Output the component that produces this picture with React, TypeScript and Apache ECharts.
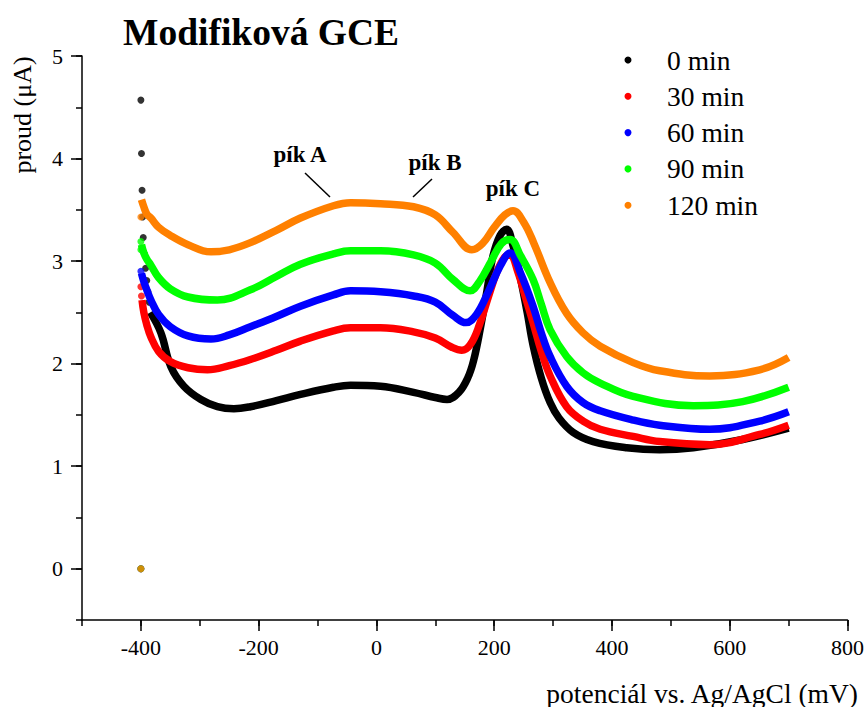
import React, { useEffect, useRef } from 'react';
import * as echarts from 'echarts';

const seriesNames = ['0 min', '30 min', '60 min', '90 min', '120 min'];
const seriesColors = ['#000000', '#ff0000', '#0000ff', '#00ff00', '#ff8000'];

// potential (mV), current (µA)
const curve0 = [
  [-384, 2.5], [-366, 2.3], [-349, 1.97], [-327, 1.78], [-298, 1.65], [-270, 1.58], [-242, 1.56],
  [-214, 1.58], [-170, 1.64], [-129, 1.7], [-73, 1.77], [-44, 1.79], [7, 1.78], [63, 1.72],
  [100, 1.67], [120, 1.65], [140, 1.72], [155, 1.86], [165, 2.03], [176, 2.33], [188, 2.72],
  [198, 3.05], [210, 3.25], [221, 3.31], [232, 3.15], [244, 2.85], [256, 2.5], [266, 2.18],
  [280, 1.86], [295, 1.62], [310, 1.47], [334, 1.33], [368, 1.24], [425, 1.18], [481, 1.16],
  [538, 1.18], [622, 1.26], [700, 1.37]
];
const curve30 = [
  [-398, 2.62], [-395, 2.5], [-390, 2.38], [-383, 2.26], [-370, 2.12], [-350, 2.02], [-320, 1.96],
  [-287, 1.94], [-250, 1.98], [-214, 2.04], [-170, 2.13], [-129, 2.22], [-73, 2.32], [-44, 2.35],
  [7, 2.35], [63, 2.31], [100, 2.25], [128, 2.16], [145, 2.13], [160, 2.19], [175, 2.38],
  [190, 2.65], [205, 2.9], [218, 3.04], [227, 3.06], [240, 2.9], [253, 2.65], [266, 2.4],
  [280, 2.12], [295, 1.88], [323, 1.58], [351, 1.44], [380, 1.36], [436, 1.29], [481, 1.24],
  [566, 1.21], [651, 1.31], [700, 1.4]
];
const curve60 = [
  [-399, 2.88], [-395, 2.8], [-390, 2.72], [-383, 2.62], [-370, 2.48], [-350, 2.36], [-320, 2.27],
  [-281, 2.24], [-250, 2.28], [-214, 2.36], [-170, 2.46], [-129, 2.56], [-73, 2.67], [-44, 2.71],
  [7, 2.7], [63, 2.66], [100, 2.6], [130, 2.47], [152, 2.4], [170, 2.48], [190, 2.7],
  [210, 2.95], [227, 3.08], [245, 2.88], [266, 2.56], [280, 2.3], [295, 2.07], [323, 1.78],
  [351, 1.62], [380, 1.54], [436, 1.45], [481, 1.4], [566, 1.36], [651, 1.44], [700, 1.53]
];
const curve90 = [
  [-399, 3.16], [-395, 3.08], [-390, 3.02], [-383, 2.96], [-370, 2.84], [-350, 2.73], [-320, 2.65],
  [-270, 2.62], [-214, 2.72], [-170, 2.85], [-129, 2.97], [-73, 3.07], [-44, 3.1], [7, 3.1],
  [63, 3.06], [100, 2.98], [130, 2.82], [159, 2.71], [175, 2.8], [195, 3.0], [212, 3.17],
  [227, 3.21], [245, 3.05], [266, 2.82], [280, 2.58], [295, 2.33], [323, 2.07], [351, 1.91],
  [380, 1.81], [436, 1.68], [538, 1.59], [622, 1.63], [700, 1.77]
];
const curve120 = [
  [-399, 3.6], [-395, 3.53], [-390, 3.46], [-383, 3.42], [-370, 3.33], [-350, 3.25], [-320, 3.16],
  [-281, 3.09], [-250, 3.11], [-214, 3.18], [-170, 3.3], [-129, 3.42], [-73, 3.54], [-44, 3.57],
  [7, 3.56], [63, 3.53], [100, 3.45], [130, 3.28], [162, 3.11], [180, 3.17], [200, 3.33],
  [218, 3.45], [232, 3.49], [250, 3.38], [267, 3.18], [295, 2.79], [323, 2.49], [351, 2.3],
  [380, 2.17], [436, 2.01], [481, 1.93], [566, 1.88], [651, 1.94], [700, 2.06]
];

// isolated points at the start of each scan
const dots0 = [
  [-400, 4.57], [-399, 4.05], [-398, 3.69], [-397, 3.43], [-396, 3.23], [-394, 3.07],
  [-392, 2.93], [-390, 2.81], [-388, 2.7], [-386, 2.6]
];
const dots30 = [[-400, 0], [-400, 2.75], [-399, 2.66]];
const dots60 = [[-400, 0], [-400, 2.9]];
const dots90 = [[-400, 0], [-400, 3.19], [-400, 3.11]];
const dots120 = [[-400, 0], [-400, 3.43]];

const xMajorTicks = [-400, -200, 0, 200, 400, 600, 800];
const yMajorTicks = [0, 1, 2, 3, 4, 5];

const curves = [curve0, curve30, curve60, curve90, curve120];
const dots = [dots0, dots30, dots60, dots90, dots120];

const SERIF = "'Liberation Serif', 'Times New Roman', serif";

export default function App() {
  const ref = useRef<HTMLDivElement>(null);
  useEffect(() => {
    if (!ref.current) return;
    const chart = echarts.init(ref.current, undefined, { renderer: 'svg' });
    const series: any[] = [];
    curves.forEach((c, i) => {
      series.push({
        name: seriesNames[i],
        type: 'line',
        data: c,
        smooth: 0.4,
        showSymbol: false,
        symbol: 'circle',
        lineStyle: { color: seriesColors[i], width: 7.5 },
        itemStyle: { color: seriesColors[i] },
        z: 2 + i,
      });
    });
    dots.forEach((d, i) => {
      series.push({
        name: seriesNames[i],
        type: 'scatter',
        data: d,
        symbol: 'circle',
        symbolSize: 7,
        itemStyle: { color: seriesColors[i] },
        z: 2 + i,
      });
    });
    const axisLineStyle = { color: '#000', width: 1.5 };
    chart.setOption({
      animation: false,
      grid: { left: 82, right: 19, top: 56, bottom: 87, containLabel: false },
      legend: {
        orient: 'vertical',
        left: 624.5,
        top: 46,
        padding: 0,
        itemWidth: 7,
        itemHeight: 7,
        itemGap: 8.3,
        textStyle: {
          fontFamily: SERIF,
          fontSize: 27.5,
          color: '#000',
          lineHeight: 26,
          padding: [0, 0, 0, 30.5],
        },
        data: seriesNames.map((n) => ({ name: n, icon: 'circle' })),
      },
      xAxis: [
        {
          type: 'value',
          min: -500,
          max: 800,
          interval: 100,
          position: 'bottom',
          axisLine: { show: true, lineStyle: axisLineStyle, onZero: false },
          axisTick: { show: true, length: 6, lineStyle: axisLineStyle },
          axisLabel: {
            fontFamily: SERIF,
            fontSize: 22,
            color: '#000',
            margin: 16,
            formatter: (v: number) => (v % 200 === 0 ? String(v) : ''),
          },
          splitLine: { show: false },
        },
        {
          type: 'value',
          min: -500,
          max: 800,
          position: 'bottom',
          axisLine: { show: false, onZero: false },
          axisTick: { show: true, length: 11, lineStyle: axisLineStyle, customValues: xMajorTicks },
          axisLabel: { show: false },
          splitLine: { show: false },
        },
      ],
      yAxis: [
        {
          type: 'value',
          min: -0.5,
          max: 5,
          interval: 0.5,
          position: 'left',
          axisLine: { show: true, lineStyle: axisLineStyle, onZero: false },
          axisTick: { show: true, length: 6, lineStyle: axisLineStyle },
          axisLabel: {
            fontFamily: SERIF,
            fontSize: 22,
            color: '#000',
            margin: 19,
            formatter: (v: number) => (Number.isInteger(v) ? String(v) : ''),
          },
          splitLine: { show: false },
        },
        {
          type: 'value',
          min: -0.5,
          max: 5,
          position: 'left',
          axisLine: { show: false, onZero: false },
          axisTick: { show: true, length: 11, lineStyle: axisLineStyle, customValues: yMajorTicks },
          axisLabel: { show: false },
          splitLine: { show: false },
        },
      ],
      series,
      graphic: [
        {
          type: 'text',
          left: 123,
          top: 13,
          style: { text: 'Modifiková GCE', font: `bold 37.5px ${SERIF}`, fill: '#000' },
        },
        {
          type: 'text',
          x: 22,
          y: 115,
          rotation: Math.PI / 2,
          style: {
            text: 'proud (μA)',
            font: `26px ${SERIF}`,
            fill: '#000',
            align: 'center',
            verticalAlign: 'middle',
          },
        },
        {
          type: 'text',
          x: 858,
          y: 693,
          style: {
            text: 'potenciál vs. Ag/AgCl (mV)',
            font: `27.5px ${SERIF}`,
            fill: '#000',
            align: 'right',
            verticalAlign: 'middle',
          },
        },
        {
          type: 'text',
          x: 300,
          y: 154,
          style: { text: 'pík A', font: `bold 23px ${SERIF}`, fill: '#000', align: 'center', verticalAlign: 'middle' },
        },
        {
          type: 'text',
          x: 435,
          y: 162,
          style: { text: 'pík B', font: `bold 23px ${SERIF}`, fill: '#000', align: 'center', verticalAlign: 'middle' },
        },
        {
          type: 'text',
          x: 513,
          y: 188,
          style: { text: 'pík C', font: `bold 23px ${SERIF}`, fill: '#000', align: 'center', verticalAlign: 'middle' },
        },
        {
          type: 'line',
          shape: { x1: 305, y1: 173, x2: 330, y2: 197 },
          style: { stroke: '#000', lineWidth: 1.5 },
        },
        {
          type: 'line',
          shape: { x1: 432, y1: 179, x2: 413, y2: 197 },
          style: { stroke: '#000', lineWidth: 1.5 },
        },
      ],
    });
    return () => chart.dispose();
  }, []);
  return <div ref={ref} style={{ width: 867, height: 707, position: 'absolute', left: 0, top: 0 }} />;
}
